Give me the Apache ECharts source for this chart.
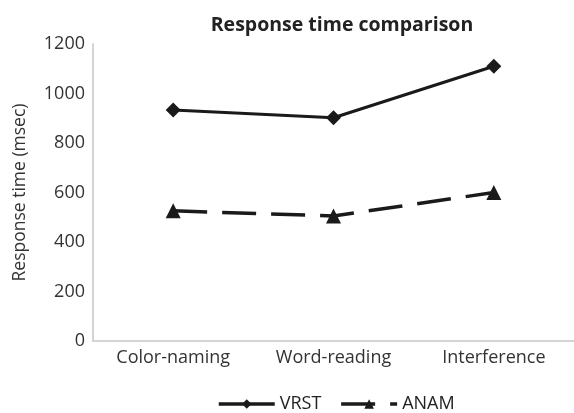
<!DOCTYPE html>
<html>
<head>
<meta charset="utf-8">
<script src="https://cdn.jsdelivr.net/npm/echarts@6/dist/echarts.min.js"></script>
<style>html,body{margin:0;padding:0;background:#fff}#c{width:574px;height:413px}</style>
</head>
<body>
<div id="c"></div>
<script>
const categories = ['Color-naming', 'Word-reading', 'Interference'];
const vrst = [933, 902, 1110];
const anam = [526, 505, 600];
const yTicks = [0, 200, 400, 600, 800, 1000, 1200];

const chart = echarts.init(document.getElementById('c'));
const font = 'Open Sans';
chart.setOption({
  animation: false,
  title: {
    text: 'Response time comparison',
    left: 337, top: 10, textAlign: 'center',
    textStyle: { fontFamily: font, fontWeight: 'bold', fontSize: 19.5, color: '#222' }
  },
  legend: {
    bottom: -5, left: 212,
    itemWidth: 56, itemHeight: 12, itemGap: 18,
    lineStyle: { width: 3.5 },
    textStyle: { fontFamily: font, fontSize: 18, color: '#222' },
    data: ['VRST', 'ANAM']
  },
  grid: { left: 93, right: -7, top: 44, bottom: 72 },
  xAxis: {
    type: 'category', data: categories, boundaryGap: true,
    axisLine: { lineStyle: { color: '#d4d4d4', width: 2 } },
    axisTick: { show: false },
    axisLabel: { fontFamily: font, fontSize: 18, color: '#333', margin: 8 }
  },
  yAxis: {
    type: 'value', min: yTicks[0], max: yTicks[yTicks.length - 1], interval: 200,
    name: 'Response time (msec)', nameLocation: 'middle', nameGap: 64, nameRotate: 90,
    nameTextStyle: { fontFamily: font, fontSize: 17.5, color: '#333' },
    axisLine: { show: true, lineStyle: { color: '#d4d4d4', width: 2 } },
    axisTick: { show: false },
    splitLine: { show: false },
    axisLabel: { fontFamily: font, fontSize: 18, color: '#333', margin: 8, formatter: v => String(v) }
  },
  series: [
    {
      name: 'VRST', type: 'line', data: vrst,
      symbol: 'diamond', symbolSize: 15,
      lineStyle: { color: '#1a1a1a', width: 3 },
      itemStyle: { color: '#1a1a1a' }
    },
    {
      name: 'ANAM', type: 'line', data: anam,
      symbol: 'triangle', symbolSize: 15,
      lineStyle: { color: '#1a1a1a', width: 3.5, type: [34, 15] },
      itemStyle: { color: '#1a1a1a' }
    }
  ]
});
</script>
</body>
</html>
